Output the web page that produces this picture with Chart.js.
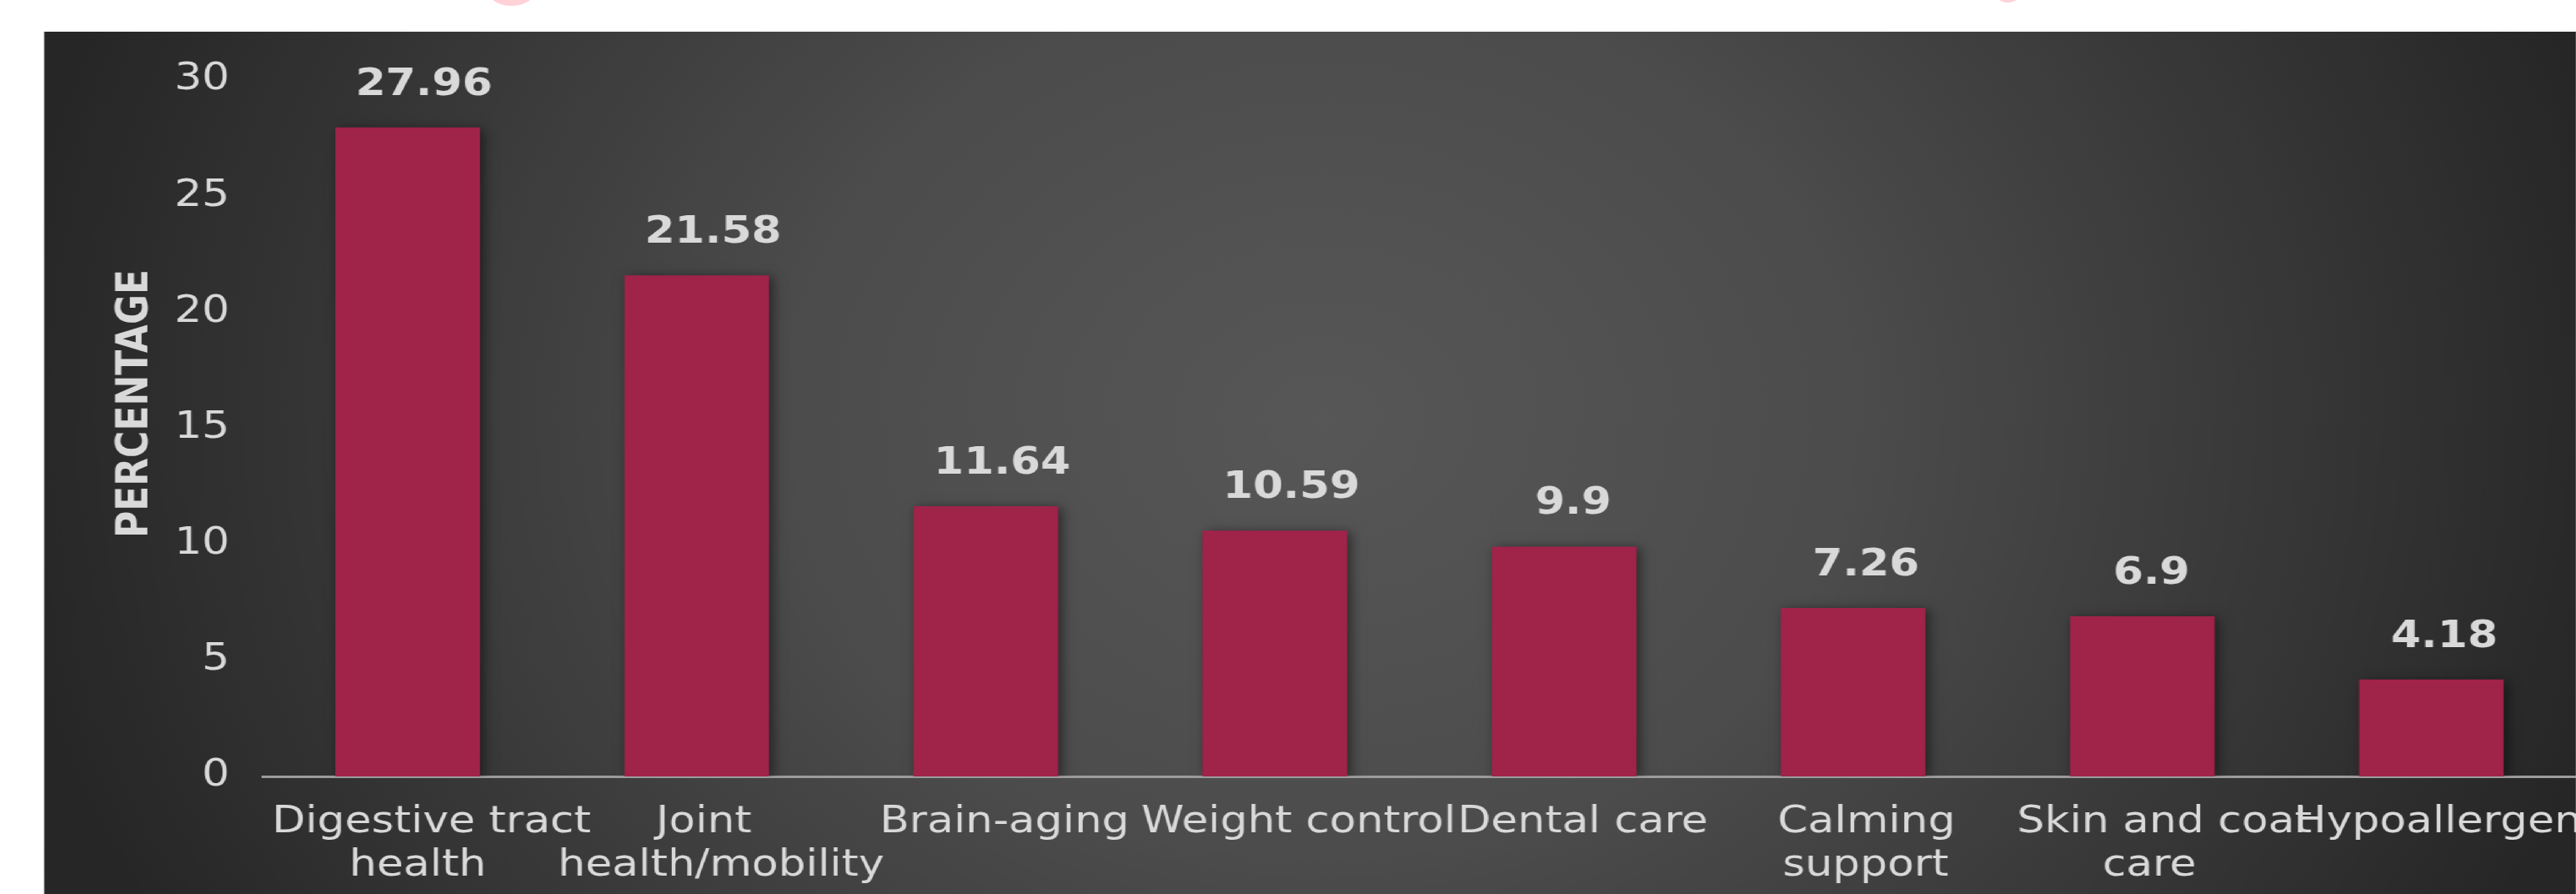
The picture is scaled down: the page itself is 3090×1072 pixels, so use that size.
<!DOCTYPE html>
<html>
<head>
<meta charset="utf-8">
<title>Functional claims</title>
<script src="https://cdn.jsdelivr.net/npm/chart.js@4.4.1/dist/chart.umd.min.js"></script>
<style>
  html, body { margin: 0; padding: 0; background: #ffffff; overflow: hidden; }
  body { width: 3090px; height: 1072px; position: relative; }
  /* the whole drawing is widened horizontally */
  #stage { position: absolute; left: 0; top: 0; width: 2620px; height: 1072px;
           transform: scaleX(1.17939); transform-origin: 0 0; }
  #panel { position: absolute; left: 45px; top: 38px; right: 0; bottom: 0;
           background: radial-gradient(ellipse 1350px 1300px at 1300px 470px,
                       #575757 0%, #4c4c4c 40%, #262626 100%); }
  #chart { position: absolute; left: 0; top: 0; }
  .blob { position: absolute; background: #ffd1d9; border-radius: 50%; }
</style>
</head>
<body>
<div class="blob" style="left:586px; top:-27px; width:55px; height:34px;"></div>
<div class="blob" style="left:2394px; top:-17px; width:29px; height:20px;"></div>
<div id="stage">
  <div id="panel"></div>
  <canvas id="chart" width="2620" height="1072" style="width:2620px;height:1072px;"></canvas>
</div>
<script>
const categories = [
  ["Digestive tract", "health"],
  ["Joint", "health/mobility"],
  "Brain-aging",
  "Weight control",
  "Dental care",
  ["Calming", "support"],
  ["Skin and coat", "care"],
  "Hypoallergenic"
];
const values = [27.96, 21.58, 11.64, 10.59, 9.9, 7.26, 6.9, 4.18];
const yMin = 0;
const yMax = 30;
const yStep = 5;
const yTitle = "PERCENTAGE";

const FONT = "'DejaVu Sans', Verdana, sans-serif";
const TEXT = "#d9d9d9";
const BAR = "#a0234a";

// text is anchored a little right of centre: the start point is placed
// from a narrower width than the drawn glyphs
function drawAnchored(ctx, str, cx, y, squeeze) {
  const w = ctx.measureText(str).width;
  ctx.textAlign = "left";
  ctx.fillText(str, cx - squeeze * w / 2, y);
}

// soft drop shadow behind the bars, then value labels on top
const barDecor = {
  id: "barDecor",
  beforeDatasetsDraw(chart) {
    const ctx = chart.ctx;
    ctx.save();
    ctx.shadowColor = "rgba(0,0,0,0.5)";
    ctx.shadowBlur = 12;
    ctx.shadowOffsetX = 4;
    ctx.shadowOffsetY = 2;
  },
  afterDatasetsDraw(chart) {
    const ctx = chart.ctx;
    ctx.restore();
    const meta = chart.getDatasetMeta(0);
    ctx.save();
    ctx.font = "bold 44px " + FONT;
    ctx.fillStyle = TEXT;
    ctx.textBaseline = "alphabetic";
    meta.data.forEach((bar, i) => {
      drawAnchored(ctx, String(values[i]), bar.x, bar.y - 39, 0.76);
    });
    ctx.restore();
  }
};

// category labels under the axis, one per tick
const categoryLabels = {
  id: "categoryLabels",
  afterDraw(chart, args, opts) {
    const ctx = chart.ctx;
    const sc = chart.scales.x;
    ctx.save();
    ctx.font = "44px " + FONT;
    ctx.fillStyle = TEXT;
    ctx.textBaseline = "middle";
    categories.forEach((lab, i) => {
      const lines = Array.isArray(lab) ? lab : [lab];
      const cx = sc.getPixelForTick(i);
      lines.forEach((ln, j) => {
        drawAnchored(ctx, ln, cx, sc.top + opts.offset + j * opts.lineHeight, 0.85);
      });
    });
    ctx.restore();
  }
};

// vertical axis title
const axisTitle = {
  id: "axisTitle",
  afterDraw(chart, args, opts) {
    const ctx = chart.ctx;
    ctx.save();
    ctx.translate(opts.x, opts.y);
    ctx.rotate(-Math.PI / 2);
    ctx.font = "bold 44px " + FONT;
    ctx.fillStyle = TEXT;
    ctx.textAlign = "center";
    ctx.textBaseline = "middle";
    ctx.fillText(yTitle, 0, 0);
    ctx.restore();
  }
};

new Chart(document.getElementById("chart"), {
  type: "bar",
  data: {
    labels: categories,
    datasets: [{
      data: values,
      backgroundColor: BAR,
      borderWidth: 0,
      barPercentage: 0.5,
      categoryPercentage: 1.0
    }]
  },
  options: {
    responsive: false,
    devicePixelRatio: 1,
    animation: false,
    layout: { padding: { top: 96, left: 0, right: 0, bottom: 0 } },
    plugins: {
      legend: { display: false },
      tooltip: { enabled: false },
      axisTitle: { x: 139, y: 484 },
      categoryLabels: { offset: 56, lineHeight: 51.5 }
    },
    scales: {
      x: {
        grid: { display: false, drawTicks: false },
        border: { display: true, color: "#9c9c9c", width: 3 },
        ticks: { display: false },
        afterFit(scale) {
          scale.height = 141;
          scale.paddingLeft = 0;
          scale.paddingRight = 0;
        }
      },
      y: {
        min: yMin,
        max: yMax,
        grid: { display: false, drawTicks: false },
        border: { display: false },
        ticks: {
          stepSize: yStep,
          color: TEXT,
          font: { family: FONT, size: 44 },
          padding: 34
        },
        afterFit(scale) {
          scale.width = 267.5;
        }
      }
    }
  },
  plugins: [barDecor, categoryLabels, axisTitle]
});
</script>
</body>
</html>
